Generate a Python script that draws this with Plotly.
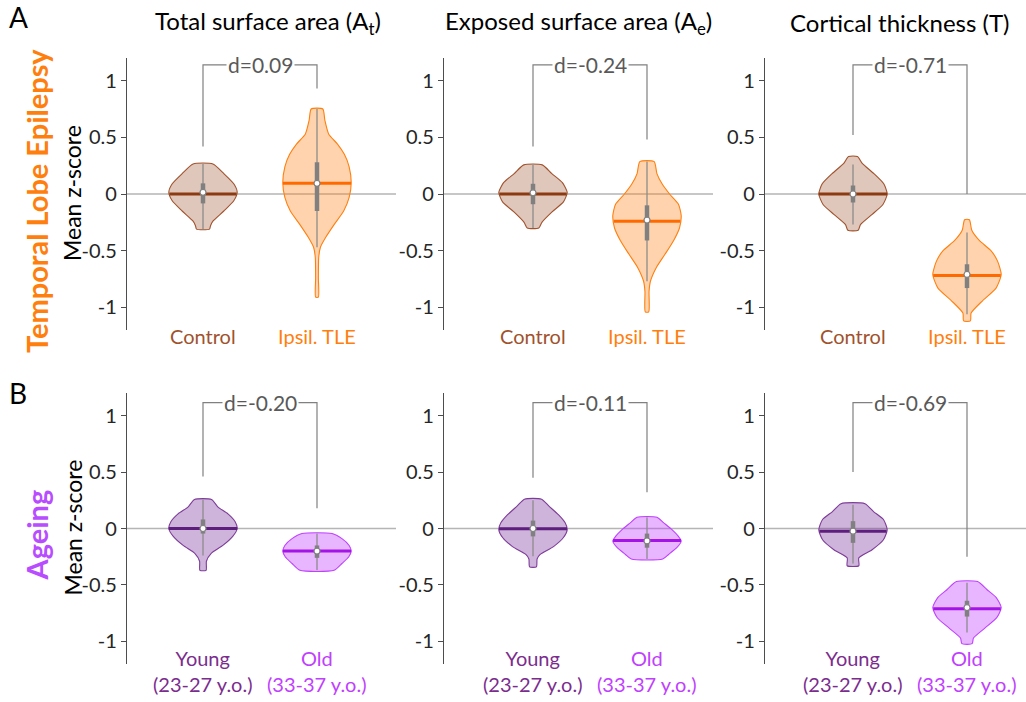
import numpy as np
import plotly.graph_objects as go

# ---------------- data ----------------
panel_titles = ["Total surface area (A<sub>t</sub>)",
                "Exposed surface area (A<sub>e</sub>)",
                "Cortical thickness (T)"]
row_labels = ["Temporal Lobe Epilepsy", "Ageing"]
row_letters = ["A", "B"]
cats_tle = ["Control", "Ipsil. TLE"]
cats_age = ["Young<br>(23-27 y.o.)", "Old<br>(33-37 y.o.)"]
effect_labels = ["d=0.09", "d=-0.24", "d=-0.71", "d=-0.20", "d=-0.11", "d=-0.69"]
tick_vals = [-1, -0.5, 0, 0.5, 1]
tick_text = ["-1", "-0.5", "0", "0.5", "1"]
y_label = "Mean z-score"

# violin profiles: y levels (top -> bottom) and relative half-widths
tle_at_ctrl_y = [0.265, 0.18, 0.09, 0.015, -0.06, -0.15, -0.24, -0.28, -0.31]
tle_at_ctrl_w = [0.29, 0.61, 0.90, 1.00, 0.90, 0.61, 0.29, 0.22, 0.19]
tle_at_pat_y = [0.75, 0.65, 0.53, 0.44, 0.35, 0.24, 0.10, -0.03, -0.15, -0.27, -0.38, -0.47, -0.56, -0.74, -0.91]
tle_at_pat_w = [0.17, 0.23, 0.34, 0.60, 0.80, 0.94, 1.00, 0.94, 0.78, 0.50, 0.26, 0.10, 0.05, 0.04, 0.04]
tle_ae_ctrl_y = [0.257, 0.18, 0.10, 0.015, -0.07, -0.16, -0.25, -0.30]
tle_ae_ctrl_w = [0.27, 0.55, 0.86, 1.00, 0.89, 0.55, 0.26, 0.17]
tle_ae_pat_y = [0.286, 0.18, 0.09, 0.0, -0.09, -0.19, -0.30, -0.41, -0.53, -0.65, -0.77, -0.86, -1.04]
tle_ae_pat_w = [0.21, 0.29, 0.44, 0.66, 0.92, 1.00, 0.95, 0.78, 0.53, 0.27, 0.10, 0.06, 0.05]
tle_t_ctrl_y = [0.33, 0.27, 0.18, 0.09, 0.0, -0.09, -0.18, -0.27, -0.32]
tle_t_ctrl_w = [0.13, 0.27, 0.61, 0.90, 1.00, 0.88, 0.56, 0.22, 0.15]
tle_t_pat_y = [-0.227, -0.32, -0.41, -0.50, -0.59, -0.71, -0.83, -0.94, -1.05, -1.12]
tle_t_pat_w = [0.07, 0.14, 0.36, 0.70, 0.89, 1.00, 0.85, 0.46, 0.12, 0.10]
age_at_young_y = [0.257, 0.19, 0.13, 0.06, 0.0, -0.07, -0.15, -0.22, -0.29, -0.37]
age_at_young_w = [0.25, 0.44, 0.73, 0.94, 1.00, 0.87, 0.58, 0.24, 0.10, 0.09]
age_at_old_y = [-0.044, -0.09, -0.15, -0.20, -0.25, -0.31, -0.37]
age_at_old_w = [0.44, 0.73, 0.94, 1.00, 0.93, 0.73, 0.50]
age_ae_young_y = [0.26, 0.20, 0.12, 0.05, -0.01, -0.08, -0.16, -0.23, -0.27, -0.34]
age_ae_young_w = [0.25, 0.46, 0.75, 0.94, 1.00, 0.89, 0.60, 0.21, 0.12, 0.10]
age_ae_old_y = [0.10, 0.05, -0.01, -0.07, -0.11, -0.17, -0.23, -0.27]
age_ae_old_w = [0.29, 0.49, 0.73, 0.92, 1.00, 0.87, 0.63, 0.46]
age_t_young_y = [0.22, 0.15, 0.08, -0.01, -0.10, -0.19, -0.26, -0.33]
age_t_young_w = [0.35, 0.60, 0.89, 1.00, 0.89, 0.55, 0.17, 0.17]
age_t_old_y = [-0.47, -0.54, -0.61, -0.70, -0.79, -0.88, -0.97, -1.02]
age_t_old_w = [0.31, 0.58, 0.85, 1.00, 0.87, 0.53, 0.19, 0.15]

# box statistics per panel: [group1, group2]
q1 = [[-0.083, -0.15], [-0.09, -0.41], [-0.075, -0.83],
      [-0.045, -0.26], [-0.07, -0.17], [-0.127, -0.78]]
q3 = [[0.094, 0.28], [0.09, -0.10], [0.075, -0.62],
      [0.08, -0.15], [0.07, -0.045], [0.065, -0.64]]
whisk_lo = [[-0.31, -0.47], [-0.30, -0.77], [-0.27, -1.06],
            [-0.24, -0.37], [-0.245, -0.27], [-0.31, -0.92]]
whisk_hi = [[0.265, 0.75], [0.257, 0.286], [0.26, -0.34],
            [0.257, -0.044], [0.25, 0.10], [0.21, -0.48]]
means = [[0.015, 0.094], [0.01, -0.23], [0.0, -0.71],
         [0.0, -0.20], [0.0, -0.11], [-0.024, -0.70]]
medians = [[0.0, 0.094], [0.0, -0.24], [0.0, -0.72],
           [0.0, -0.20], [-0.003, -0.106], [-0.024, -0.71]]
# bracket: left leg end, right leg end, top
bracket_left = [0.42, 0.42, 0.52, 0.46, 0.45, 0.50]
bracket_right = [0.93, 0.48, 0.0, 0.18, 0.32, -0.25]
bracket_top = [1.14, 1.14, 1.14, 1.115, 1.115, 1.115]

profiles = [
    [(tle_at_ctrl_y, tle_at_ctrl_w), (tle_at_pat_y, tle_at_pat_w)],
    [(tle_ae_ctrl_y, tle_ae_ctrl_w), (tle_ae_pat_y, tle_ae_pat_w)],
    [(tle_t_ctrl_y, tle_t_ctrl_w), (tle_t_pat_y, tle_t_pat_w)],
    [(age_at_young_y, age_at_young_w), (age_at_old_y, age_at_old_w)],
    [(age_ae_young_y, age_ae_young_w), (age_ae_old_y, age_ae_old_w)],
    [(age_t_young_y, age_t_young_w), (age_t_old_y, age_t_old_w)],
]

# ---------------- styles ----------------
FONT = "Lato"
W, H = 1026, 702
HALF = 0.3  # max violin half-width in x units
fill_cols = [["rgba(160,82,45,0.32)", "rgba(255,127,14,0.34)"],
             ["rgba(120,45,155,0.36)", "rgba(192,64,255,0.38)"]]
edge_cols = [["#A0522D", "#FF7F0E"], ["#7D3C98", "#BF40FF"]]
med_cols = [["#8B3A12", "#FF6A00"], ["#5E1E7E", "#A514E6"]]
label_cols = [["#A0522D", "#FF7F0E"], ["#7B2D8E", "#BF40FF"]]
row_label_cols = ["#FF7F0E", "#B84DFF"]
GREY = "#808080"

# pixel layout
col_px = [(127, 396, 203), (444, 713, 533), (765, 1026, 853)]
row_px = [(58, 330), (393, 664)]
PX_PER_UNIT = 114.0

fig = go.Figure()
layout = dict(width=W, height=H, margin=dict(l=0, r=0, t=0, b=0),
              paper_bgcolor="white", plot_bgcolor="white", showlegend=False,
              font=dict(family=FONT, color="#262626"))
shapes, annotations = [], []

for p in range(6):
    r, c = divmod(p, 3)
    n = "" if p == 0 else str(p + 1)
    xl, xr, xc = col_px[c]
    yt, yb = row_px[r]
    x0 = 1 - (xc - xl) / PX_PER_UNIT
    x1 = x0 + (xr - xl) / PX_PER_UNIT
    layout["xaxis" + n] = dict(domain=[xl / W, xr / W], range=[x0, x1], visible=False,
                               anchor="y" + n, fixedrange=True)
    layout["yaxis" + n] = dict(domain=[1 - yb / H, 1 - yt / H], range=[-1.2, 1.2],
                               anchor="x" + n, showline=True, linecolor="#4d4d4d", linewidth=1.3,
                               ticks="outside", ticklen=5, tickcolor="#4d4d4d", tickwidth=1.2,
                               tickvals=tick_vals, ticktext=tick_text, showgrid=False,
                               zeroline=False, tickfont=dict(size=20, color="#262626"))
    shapes.append(dict(type="line", xref="x" + n + " domain", x0=0, x1=1, yref="y" + n,
                       y0=0, y1=0, line=dict(color="#b5b5b5", width=1.5), layer="below"))

    for g in range(2):
        xpos = g + 1
        yy, ww = profiles[p][g]
        yy = np.array(yy)
        ww = np.array(ww) * HALF
        xs = np.concatenate([xpos + ww, (xpos - ww)[::-1], [xpos + ww[0]]])
        ys = np.concatenate([yy, yy[::-1], [yy[0]]])
        fig.add_trace(go.Scatter(x=xs, y=ys, mode="lines", fill="toself",
                                 fillcolor=fill_cols[r][g],
                                 line=dict(color=edge_cols[r][g], width=1.1, shape="spline", smoothing=0.6),
                                 xaxis="x" + n, yaxis="y" + n, hoverinfo="skip"))
        # whisker
        fig.add_trace(go.Scatter(x=[xpos, xpos], y=[whisk_lo[p][g], whisk_hi[p][g]], mode="lines",
                                 line=dict(color="#8c8c8c", width=1.3),
                                 xaxis="x" + n, yaxis="y" + n, hoverinfo="skip"))
        # median line across violin
        mw = np.interp(medians[p][g], yy[::-1], ww[::-1])
        fig.add_trace(go.Scatter(x=[xpos - mw, xpos + mw], y=[medians[p][g]] * 2, mode="lines",
                                 line=dict(color=med_cols[r][g], width=3),
                                 xaxis="x" + n, yaxis="y" + n, hoverinfo="skip"))
        # box
        fig.add_trace(go.Scatter(x=[xpos, xpos], y=[q1[p][g], q3[p][g]], mode="lines",
                                 line=dict(color=GREY, width=4.5),
                                 xaxis="x" + n, yaxis="y" + n, hoverinfo="skip"))
        # mean dot
        fig.add_trace(go.Scatter(x=[xpos], y=[means[p][g]], mode="markers",
                                 marker=dict(color="white", size=6, line=dict(color=GREY, width=1.2)),
                                 xaxis="x" + n, yaxis="y" + n, hoverinfo="skip"))
        # category label
        cat = (cats_tle if r == 0 else cats_age)[g]
        cy = 336 if r == 0 else 671
        annotations.append(dict(x=xpos, xref="x" + n, y=1 - cy / H, yref="paper", text=cat,
                                showarrow=False, xanchor="center", yanchor="middle",
                                font=dict(size=20, color=label_cols[r][g], family=FONT)))

    # bracket
    fig.add_trace(go.Scatter(x=[1, 1, 2, 2],
                             y=[bracket_left[p], bracket_top[p], bracket_top[p], bracket_right[p]],
                             mode="lines", line=dict(color="#808080", width=1.2),
                             xaxis="x" + n, yaxis="y" + n, hoverinfo="skip"))
    annotations.append(dict(x=1.5, xref="x" + n, y=bracket_top[p], yref="y" + n,
                            text=effect_labels[p], showarrow=False, bgcolor="white",
                            borderpad=1, font=dict(size=21, color="#595959", family=FONT)))

    if c == 0:
        annotations.append(dict(x=72 / W, xref="paper", y=1 - ((yt + yb) / 2 - 1) / H, yref="paper",
                                text=y_label, textangle=-90, showarrow=False,
                                xanchor="center", yanchor="middle",
                                font=dict(size=23, color="black", family=FONT)))
        annotations.append(dict(x=36 / W, xref="paper", y=1 - ((yt + yb) / 2 + 7) / H, yref="paper",
                                text="<b>" + row_labels[r] + "</b>", textangle=-90, showarrow=False,
                                xanchor="center", yanchor="middle",
                                font=dict(size=29, color=row_label_cols[r], family=FONT)))
        annotations.append(dict(x=18 / W, xref="paper", y=1 - (17 if r == 0 else 393) / H, yref="paper",
                                text=row_letters[r], showarrow=False, xanchor="center", yanchor="middle",
                                font=dict(size=28, color="black", family=FONT)))
    if r == 0:
        annotations.append(dict(x=((xl + xr) / 2 + 6) / W if c == 0 else ((xl + (xl + 269)) / 2) / W,
                                xref="paper", y=1 - 22 / H, yref="paper",
                                text=panel_titles[c], showarrow=False, xanchor="center", yanchor="middle",
                                font=dict(size=24, color="black", family=FONT)))

layout["shapes"] = shapes
layout["annotations"] = annotations
fig.update_layout(**layout)
fig.write_html("out.html")
